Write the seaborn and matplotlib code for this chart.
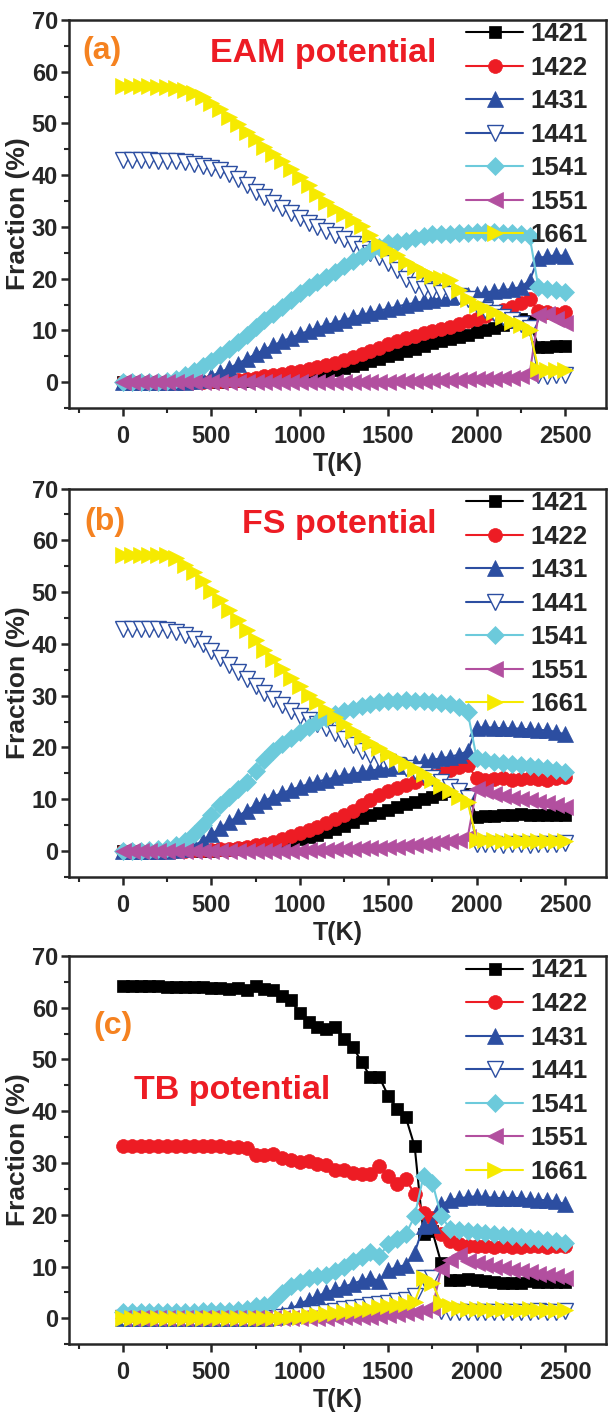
import numpy as np
import matplotlib
matplotlib.use("Agg")
import matplotlib.pyplot as plt
import seaborn as sns
from matplotlib.ticker import MultipleLocator

sns.set_style("ticks")
plt.rcParams["font.family"] = ["Liberation Sans", "DejaVu Sans"]
plt.rcParams["font.weight"] = "bold"

# ── Data (fraction in %, temperature step 50 K) ──────────────────────────────
T = np.arange(0, 2501, 50)
NAMES = ["1421", "1422", "1431", "1441", "1541", "1551", "1661"]

# (a) EAM potential
eam_1421 = [0, 0, 0, 0, 0, 0, 0, 0, 0, 0,
            0.1, 0.1, 0.2, 0.2, 0.3, 0.4, 0.5, 0.6, 0.8, 1.0,
            1.2, 1.4, 1.7, 2.0, 2.3, 2.7, 3.1, 3.5, 4.0, 4.5,
            5.0, 5.5, 6.0, 6.5, 7.0, 7.5, 7.9, 8.3, 8.8, 9.2,
            9.6, 10.0, 10.5, 11.0, 11.6, 12.2, 11.8, 6.8, 6.8, 6.9,
            7.0]
eam_1422 = [0, 0, 0, 0, 0, 0, 0, 0, 0.1, 0.1,
            0.2, 0.3, 0.4, 0.5, 0.7, 0.9, 1.1, 1.3, 1.6, 1.9,
            2.2, 2.5, 2.9, 3.3, 3.8, 4.3, 4.8, 5.4, 6.0, 6.6,
            7.3, 7.9, 8.5, 9.0, 9.5, 9.9, 10.2, 10.6, 11.2, 11.8,
            12.3, 12.8, 13.3, 13.9, 14.6, 15.3, 16.0, 13.8, 13.5, 13.2,
            13.5]
eam_1431 = [0, 0, 0, 0, 0, 0, 0, 0, 0.2, 0.5,
            1.2, 1.9, 2.7, 3.6, 4.5, 5.4, 6.3, 7.1, 7.9, 8.6,
            9.3, 9.9, 10.5, 11.0, 11.5, 12.0, 12.5, 13.0, 13.4, 13.8,
            14.2, 14.6, 15.0, 15.3, 15.6, 15.9, 16.2, 16.4, 16.6, 16.8,
            17.0, 17.3, 17.6, 17.8, 18.0, 18.4, 19.6, 24.0, 24.3, 24.5,
            24.4]
eam_1441 = [42.9, 42.9, 42.9, 42.9, 42.8, 42.8, 42.7, 42.5, 42.2, 41.8,
            41.3, 40.9, 40.2, 39.2, 38.0, 36.8, 35.7, 34.7, 33.6, 32.6,
            31.7, 30.8, 30.0, 29.2, 28.4, 27.6, 26.7, 25.8, 25.0, 24.1,
            23.1, 21.6, 20.0, 18.8, 18.0, 17.6, 17.3, 17.0, 16.6, 16.0,
            15.0, 14.0, 13.3, 12.6, 12.0, 11.3, 10.4, 1.3, 1.2, 1.3,
            1.4]
eam_1541 = [0, 0, 0, 0, 0, 0.2, 0.7, 1.4, 2.2, 3.1,
            4.1, 5.3, 6.5, 7.8, 9.2, 10.7, 12.0, 13.2, 14.5, 15.8,
            17.2, 18.3, 19.3, 20.3, 21.3, 22.4, 23.4, 24.4, 25.3, 26.1,
            26.8, 27.0, 27.3, 27.8, 28.3, 28.6, 28.6, 28.7, 28.8, 28.9,
            29.0, 29.0, 29.0, 28.9, 28.8, 28.6, 28.2, 18.3, 18.0, 17.8,
            17.4]
eam_1551 = [0, 0, 0, 0, 0, 0, 0, 0, 0, 0,
            0, 0, 0, 0, 0, 0, 0, 0, 0, 0,
            0, 0, 0, 0, 0, 0, 0, 0, 0.1, 0.1,
            0.1, 0.2, 0.2, 0.3, 0.3, 0.4, 0.4, 0.5, 0.5, 0.6,
            0.6, 0.7, 0.7, 0.8, 0.9, 1.1, 1.6, 13.0, 13.2, 12.3,
            11.5]
eam_1661 = [57.2, 57.2, 57.2, 57.2, 57.1, 57.0, 56.8, 56.4, 55.9, 55.1,
            54.0, 52.8, 51.3, 49.8, 48.3, 47.0, 45.5, 44.0, 42.8, 41.2,
            39.6, 38.0, 36.3, 34.8, 33.5, 32.4, 31.3, 30.2, 28.5, 26.7,
            25.5, 24.5, 23.3, 22.2, 21.2, 20.6, 20.2, 19.8, 17.8, 16.0,
            15.0, 14.3, 13.5, 12.5, 11.7, 11.0, 10.0, 2.5, 2.3, 2.3,
            2.4]

# (b) FS potential
fs_1421 = [0, 0, 0, 0, 0, 0, 0, 0, 0, 0,
           0, 0.1, 0.2, 0.3, 0.5, 0.7, 0.9, 1.2, 1.5, 1.9,
           2.3, 2.7, 3.1, 3.6, 4.2, 4.9, 5.6, 6.3, 6.9, 7.4,
           8.0, 8.5, 9.0, 9.5, 10.0, 10.5, 11.0, 11.6, 12.0, 11.0,
           6.6, 6.7, 6.8, 7.0, 6.9, 7.1, 7.0, 7.0, 7.0, 6.9,
           7.0]
fs_1422 = [0, 0, 0, 0, 0, 0, 0, 0, 0.1, 0.1,
           0.2, 0.3, 0.4, 0.6, 0.8, 1.1, 1.4, 1.8, 2.3, 2.8,
           3.4, 4.0, 4.7, 5.4, 6.2, 7.0, 7.8, 8.8, 9.8, 10.8,
           11.6, 12.2, 12.8, 13.4, 14.0, 14.5, 15.0, 15.6, 16.2, 16.6,
           14.0, 13.8, 13.9, 14.0, 13.8, 13.9, 14.0, 13.9, 13.8, 14.0,
           14.3]
fs_1431 = [0, 0, 0, 0, 0, 0, 0.1, 0.4, 1.0, 2.0,
           3.2, 4.4, 5.6, 6.7, 7.8, 8.8, 9.7, 10.5, 11.2, 11.8,
           12.4, 12.9, 13.4, 13.8, 14.2, 14.6, 14.9, 15.2, 15.5, 15.8,
           16.1, 16.4, 16.7, 17.0, 17.3, 17.6, 17.9, 18.2, 18.6, 19.3,
           23.8, 23.9, 23.8, 23.7, 23.7, 23.6, 23.5, 23.4, 23.3, 23.0,
           22.5]
fs_1441 = [42.9, 42.9, 42.9, 42.9, 42.8, 42.6, 42.3, 41.8, 41.0, 40.0,
           38.6, 37.3, 36.0, 34.6, 33.2, 31.8, 30.5, 29.3, 28.1, 27.0,
           26.0, 25.2, 24.5, 23.8, 22.8, 21.7, 20.5, 19.4, 18.5, 17.8,
           17.1, 16.6, 16.0, 15.4, 14.7, 14.0, 13.3, 12.4, 11.5, 10.3,
           1.4, 1.3, 1.3, 1.2, 1.3, 1.3, 1.2, 1.3, 1.3, 1.4,
           1.5]
fs_1541 = [0, 0, 0, 0.1, 0.3, 0.6, 1.2, 2.0, 3.2, 5.0,
           7.0, 8.8, 10.4, 11.9, 13.4, 15.5, 17.5, 19.3, 20.6, 21.8,
           23.0, 24.0, 24.9, 25.7, 26.4, 27.0, 27.5, 28.0, 28.4, 28.7,
           28.9, 29.0, 29.1, 29.0, 28.9, 28.8, 28.6, 28.3, 27.8, 26.8,
           18.0, 17.5, 17.2, 17.0, 16.8, 16.6, 16.4, 16.2, 16.0, 15.7,
           15.3]
fs_1551 = [0, 0, 0, 0, 0, 0, 0, 0, 0, 0,
           0, 0, 0, 0, 0, 0, 0, 0, 0, 0,
           0, 0.1, 0.1, 0.2, 0.3, 0.4, 0.4, 0.5, 0.5, 0.6,
           0.7, 0.8, 1.0, 1.1, 1.3, 1.5, 1.7, 2.0, 2.2, 2.7,
           12.0, 11.5, 11.0, 10.6, 10.3, 10.0, 9.8, 9.5, 9.2, 8.9,
           8.5]
fs_1661 = [57.2, 57.2, 57.2, 57.2, 57.2, 57.2, 56.5, 55.2, 53.8, 52.2,
           50.3, 48.4, 46.5, 44.6, 42.7, 40.8, 38.9, 37.0, 35.2, 33.5,
           31.8, 30.2, 28.7, 27.2, 25.8, 24.5, 23.2, 22.0, 20.9, 19.8,
           18.8, 17.8, 16.8, 15.8, 14.8, 13.7, 12.6, 11.5, 10.4, 9.4,
           2.2, 2.1, 2.1, 2.0, 2.0, 2.0, 2.0, 1.9, 1.9, 2.0,
           2.0]

# (c) TB potential
tb_1421 = [64.1, 64.1, 64.1, 64.1, 64.1, 64.0, 64.0, 64.0, 64.0, 64.0,
           63.9, 63.8, 63.6, 63.8, 63.5, 64.2, 63.6, 63.5, 62.2, 61.5,
           59.0, 57.2, 56.3, 55.8, 56.3, 54.0, 52.5, 49.5, 46.6, 46.6,
           43.0, 40.5, 38.8, 33.2, 16.2, 16.8, 10.7, 7.5, 7.4, 7.6,
           7.5, 7.3, 7.0, 6.8, 6.8, 6.9, 7.2, 7.1, 7.0, 7.0,
           7.0]
tb_1422 = [33.2, 33.2, 33.2, 33.2, 33.2, 33.2, 33.2, 33.2, 33.2, 33.2,
           33.2, 33.2, 33.1, 33.1, 32.9, 31.6, 31.5, 31.8, 31.0, 30.5,
           30.2, 30.4, 29.8, 29.6, 28.7, 28.6, 28.0, 27.9, 27.9, 29.5,
           27.5, 25.9, 26.9, 24.0, 20.4, 19.3, 16.3, 15.0, 14.3, 14.0,
           14.0, 14.0, 13.8, 14.0, 13.7, 13.8, 14.0, 13.9, 13.8, 13.9,
           14.0]
tb_1431 = [0, 0, 0, 0, 0, 0, 0, 0, 0, 0,
           0, 0, 0, 0, 0, 0, 0, 0.3, 0.8, 1.8,
           2.8, 3.6, 4.3, 5.0, 5.6, 6.1, 6.7, 7.3, 7.8, 7.2,
           9.3, 9.9, 10.3, 12.7, 17.9, 18.1, 22.0, 22.8, 23.2, 23.4,
           23.6, 23.4, 23.3, 23.2, 23.3, 23.2, 23.0, 22.9, 22.8, 22.6,
           22.0]
tb_1441 = [0, 0, 0, 0, 0, 0, 0, 0, 0, 0,
           0, 0, 0, 0, 0, 0, 0, 0.1, 0.2, 0.4,
           0.6, 0.8, 1.0, 1.3, 1.5, 1.8, 2.0, 2.2, 2.5, 2.8,
           3.0, 3.3, 3.6, 4.3, 7.8, 7.8, 1.5, 1.3, 1.3, 1.2,
           1.3, 1.2, 1.3, 1.3, 1.2, 1.3, 1.3, 1.4, 1.3, 1.3,
           1.4]
tb_1541 = [1.2, 1.3, 1.3, 1.3, 1.3, 1.3, 1.3, 1.3, 1.3, 1.4,
           1.4, 1.5, 1.5, 1.6, 1.8, 2.3, 2.6, 3.2, 4.9, 6.2,
           7.1, 7.8, 8.1, 8.4, 9.1, 10.0, 11.0, 11.8, 12.8, 12.0,
           14.3, 15.3, 16.2, 19.8, 27.5, 26.2, 19.8, 17.2, 17.0, 16.8,
           16.6, 16.4, 16.3, 16.1, 16.0, 15.8, 15.6, 15.4, 15.2, 15.0,
           14.6]
tb_1551 = [0, 0, 0, 0, 0, 0, 0, 0, 0, 0,
           0, 0, 0, 0, 0, 0, 0, 0, 0, 0,
           0, 0, 0.1, 0.1, 0.2, 0.2, 0.2, 0.3, 0.3, 0.5,
           0.6, 0.8, 1.0, 1.3, 1.6, 2.0, 9.5, 11.3, 12.2, 11.0,
           10.6, 10.3, 10.0, 9.7, 9.4, 9.1, 8.9, 8.6, 8.4, 8.1,
           7.8]
tb_1661 = [0, 0, 0, 0, 0, 0, 0, 0, 0, 0,
           0, 0, 0, 0, 0, 0, 0, 0.1, 0.1, 0.2,
           0.3, 0.5, 0.7, 0.9, 1.1, 1.3, 1.5, 1.7, 1.9, 2.1,
           2.3, 2.5, 2.8, 3.2, 7.8, 6.8, 2.9, 2.3, 2.0, 1.9,
           1.8, 1.8, 1.7, 1.8, 1.7, 1.7, 1.8, 1.7, 1.7, 1.6,
           1.6]

PANELS = [
    ("(a)", "EAM potential", [eam_1421, eam_1422, eam_1431, eam_1441, eam_1541, eam_1551, eam_1661]),
    ("(b)", "FS potential", [fs_1421, fs_1422, fs_1431, fs_1441, fs_1541, fs_1551, fs_1661]),
    ("(c)", "TB potential", [tb_1421, tb_1422, tb_1431, tb_1441, tb_1541, tb_1551, tb_1661]),
]

# ── Styling ──────────────────────────────────────────────────────────────────
COLORS = ["#000000", "#ED1C24", "#2C4EA1", "#2C4EA1", "#6CCADB", "#B24F9F", "#F6EA00"]
MARKERS = ["s", "o", "^", "v", "D", "<", ">"]
SIZES = [9, 10, 11, 11, 9, 11, 11]
ORANGE = "#F58220"
RED = "#ED1C24"

# label / title anchors in data coords
TAG_POS = [(-230, 64.0), (-220, 63.5), (-170, 56.5)]
TITLE_POS = [(1135, 63.5), (1225, 63.0), (620, 44.0)]

BOTTOMS = [0.711, 0.379, 0.048]
HEIGHT = 0.275

fig = plt.figure(figsize=(6.08, 14.12), dpi=100)

for (tag, title, series), bottom, tpos, ttl in zip(PANELS, BOTTOMS, TAG_POS, TITLE_POS):
    ax = fig.add_axes([0.1135, bottom, 0.8832, HEIGHT])
    handles = []
    for name, vals, c, m, ms in zip(NAMES, series, COLORS, MARKERS, SIZES):
        face = "white" if name == "1441" else c
        sns.lineplot(x=T, y=vals, ax=ax, color=c, linewidth=1.5,
                     marker=m, markersize=ms, markerfacecolor=face,
                     markeredgecolor=c, markeredgewidth=1.0 if name == "1441" else 0.5,
                     label=name, legend=False)
        handles.append(ax.lines[-1])

    ax.set_xlim(-305, 2732)
    ax.set_ylim(-5, 70)
    ax.xaxis.set_major_locator(MultipleLocator(500))
    ax.xaxis.set_minor_locator(MultipleLocator(250))
    ax.yaxis.set_minor_locator(MultipleLocator(5))
    ax.set_yticks(range(0, 71, 10))
    ax.tick_params(which="major", direction="out", length=6, width=1.8, labelsize=17, pad=2)
    ax.tick_params(which="minor", direction="out", length=3.5, width=1.5)
    ax.tick_params(axis="x", which="major", pad=6)
    for lab in ax.get_xticklabels() + ax.get_yticklabels():
        lab.set_fontweight("bold")
    for sp in ax.spines.values():
        sp.set_linewidth(1.8)

    ax.set_xlabel("T(K)", fontsize=18, fontweight="bold", labelpad=3)
    ax.set_ylabel("Fraction (%)", fontsize=19, fontweight="bold", labelpad=1)

    ax.text(tpos[0], tpos[1], tag, color=ORANGE, fontsize=23, fontweight="bold",
            ha="left", va="center")
    ax.text(ttl[0], ttl[1], title, color=RED, fontsize=24.5, fontweight="bold",
            ha="center", va="center")

    ax.legend(handles, NAMES, loc="upper left", bbox_to_anchor=(0.735, 1.0),
              frameon=False, prop={"weight": "bold", "size": 18.5},
              handlelength=2.2, handletextpad=0.3, labelspacing=0.37,
              borderpad=0.1, borderaxespad=0)

fig.savefig("out.png", dpi=100)
